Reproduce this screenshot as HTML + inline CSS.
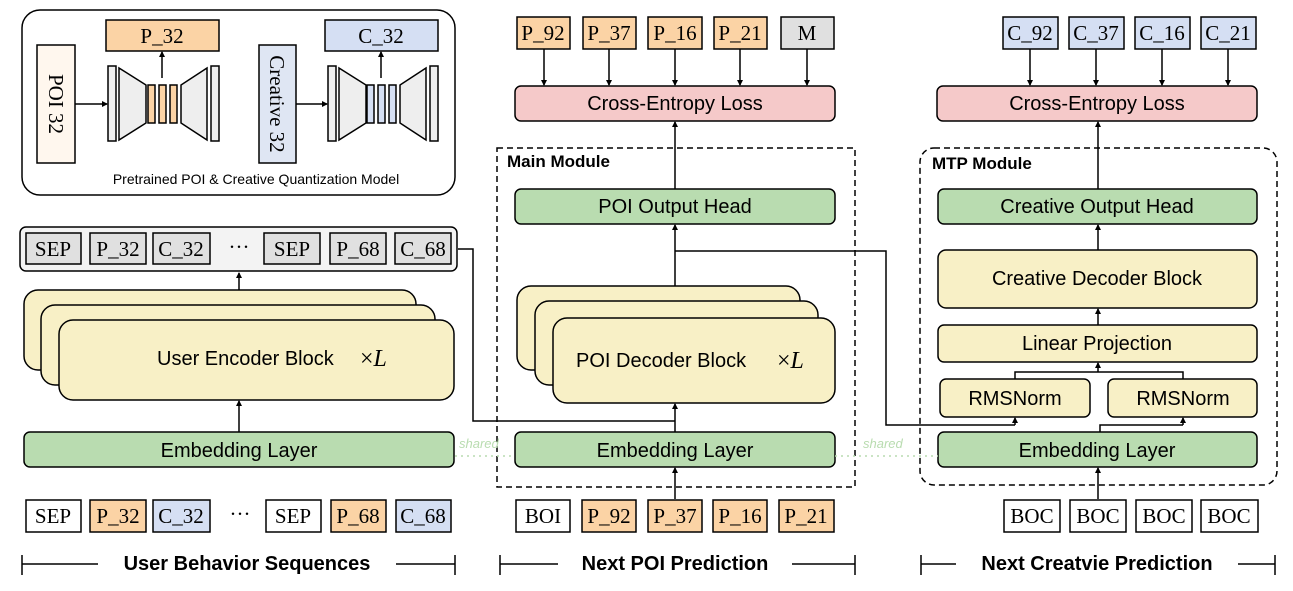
<!DOCTYPE html>
<html><head><meta charset="utf-8"><style>
body{margin:0;background:#fff}
svg{display:block}
.s{font-family:"Liberation Sans",sans-serif}
.r{font-family:"Liberation Serif",serif}
</style></head><body>
<svg width="1293" height="591" viewBox="0 0 1293 591" xmlns="http://www.w3.org/2000/svg">
<defs>
<marker id="a" markerWidth="6" markerHeight="6" refX="5" refY="3" orient="auto" markerUnits="userSpaceOnUse"><path d="M0,0 L6,3 L0,6 z" fill="#000"/></marker>
</defs>
<g stroke="#000" stroke-width="1.5" fill="none">
<rect x="22" y="10" width="433" height="185" rx="18" fill="#fff"/>
<rect x="37" y="45" width="38" height="118" fill="#fff7ee"/>
<rect x="259" y="45" width="37" height="118" fill="#dfe6f3"/>
<rect x="106" y="20" width="113" height="31" fill="#fbd3a5"/>
<rect x="325" y="20" width="113" height="31" fill="#d5dff3"/>
<rect x="108" y="66" width="8" height="75" fill="#eee"/>
<path d="M119,68 L146,85 L146,123 L119,140 Z" fill="#eee"/>
<rect x="148" y="85" width="7" height="38" fill="#fbd3a5"/>
<rect x="159" y="85" width="7" height="38" fill="#fbd3a5"/>
<rect x="170" y="85" width="7" height="38" fill="#fbd3a5"/>
<path d="M207,68 L181,85 L181,123 L207,140 Z" fill="#eee"/>
<rect x="211" y="66" width="8" height="75" fill="#eee"/>
<rect x="328" y="66" width="8" height="75" fill="#eee"/>
<path d="M339,68 L366,85 L366,123 L339,140 Z" fill="#eee"/>
<rect x="367" y="85" width="7" height="38" fill="#d5dff3"/>
<rect x="378" y="85" width="7" height="38" fill="#d5dff3"/>
<rect x="389" y="85" width="7" height="38" fill="#d5dff3"/>
<path d="M426,68 L400,85 L400,123 L426,140 Z" fill="#eee"/>
<rect x="430" y="66" width="8" height="75" fill="#eee"/>
<line x1="75" y1="104" x2="107" y2="104" marker-end="url(#a)"/>
<line x1="296" y1="104" x2="327" y2="104" marker-end="url(#a)"/>
<line x1="162" y1="78" x2="162" y2="52" marker-end="url(#a)"/>
<line x1="381" y1="78" x2="381" y2="52" marker-end="url(#a)"/>

<rect x="20" y="227" width="437" height="44" rx="6" fill="#f3f3f3"/>
<g fill="#e0e0e0">
<rect x="26" y="233" width="55" height="31"/><rect x="90" y="233" width="56" height="31"/><rect x="153" y="233" width="57" height="31"/>
<rect x="264" y="233" width="56" height="31"/><rect x="330" y="233" width="56" height="31"/><rect x="395" y="233" width="56" height="31"/>
</g>
<rect x="24" y="290" width="392" height="80" rx="14" fill="#f8f0c6"/>
<rect x="41" y="305" width="394" height="80" rx="14" fill="#f8f0c6"/>
<rect x="59" y="320" width="395" height="80" rx="14" fill="#f8f0c6"/>
<line x1="239" y1="290" x2="239" y2="273" marker-end="url(#a)"/>
<line x1="239" y1="432" x2="239" y2="401" marker-end="url(#a)"/>
<rect x="24" y="432" width="430" height="35" rx="6" fill="#b9dcb0"/>
<rect x="26" y="500" width="55" height="32" fill="#fff"/>
<rect x="90" y="500" width="56" height="32" fill="#fbd3a5"/>
<rect x="153" y="500" width="57" height="32" fill="#d5dff3"/>
<rect x="266" y="500" width="55" height="32" fill="#fff"/>
<rect x="331" y="500" width="55" height="32" fill="#fbd3a5"/>
<rect x="396" y="500" width="55" height="32" fill="#d5dff3"/>

<rect x="517" y="17" width="53" height="32" fill="#fbd3a5"/>
<rect x="583" y="17" width="53" height="32" fill="#fbd3a5"/>
<rect x="648" y="17" width="54" height="32" fill="#fbd3a5"/>
<rect x="714" y="17" width="53" height="32" fill="#fbd3a5"/>
<rect x="781" y="17" width="53" height="32" fill="#e0e0e0"/>
<line x1="544" y1="49" x2="544" y2="85" marker-end="url(#a)"/>
<line x1="609" y1="49" x2="609" y2="85" marker-end="url(#a)"/>
<line x1="675" y1="49" x2="675" y2="85" marker-end="url(#a)"/>
<line x1="740" y1="49" x2="740" y2="85" marker-end="url(#a)"/>
<line x1="807" y1="49" x2="807" y2="85" marker-end="url(#a)"/>
<rect x="515" y="86" width="320" height="35" rx="6" fill="#f5c9c9"/>
<rect x="497" y="148" width="358" height="339" stroke-dasharray="6,4"/>
<line x1="675" y1="189" x2="675" y2="122" marker-end="url(#a)"/>
<rect x="515" y="189" width="320" height="35" rx="6" fill="#b9dcb0"/>
<line x1="675" y1="286" x2="675" y2="225" marker-end="url(#a)"/>
<rect x="517" y="286" width="283" height="84" rx="14" fill="#f8f0c6"/>
<rect x="535" y="301" width="283" height="84" rx="14" fill="#f8f0c6"/>
<rect x="553" y="318" width="282" height="85" rx="14" fill="#f8f0c6"/>
<line x1="675" y1="432" x2="675" y2="404" marker-end="url(#a)"/>
<polyline points="458,249 473,249 473,421 675,421"/>
<polyline points="675,251 886,251 886,425 1015,425"/>
<line x1="1015" y1="425" x2="1015" y2="418" marker-end="url(#a)"/>
<rect x="515" y="432" width="320" height="35" rx="6" fill="#b9dcb0"/>
<line x1="675" y1="499" x2="675" y2="468" marker-end="url(#a)"/>
<rect x="516" y="500" width="54" height="32" fill="#fff"/>
<rect x="582" y="500" width="54" height="32" fill="#fbd3a5"/>
<rect x="648" y="500" width="54" height="32" fill="#fbd3a5"/>
<rect x="713" y="500" width="54" height="32" fill="#fbd3a5"/>
<rect x="779" y="500" width="55" height="32" fill="#fbd3a5"/>

<rect x="1003" y="17" width="55" height="32" fill="#d5dff3"/>
<rect x="1069" y="17" width="55" height="32" fill="#d5dff3"/>
<rect x="1135" y="17" width="55" height="32" fill="#d5dff3"/>
<rect x="1201" y="17" width="55" height="32" fill="#d5dff3"/>
<line x1="1030" y1="49" x2="1030" y2="85" marker-end="url(#a)"/>
<line x1="1096" y1="49" x2="1096" y2="85" marker-end="url(#a)"/>
<line x1="1162" y1="49" x2="1162" y2="85" marker-end="url(#a)"/>
<line x1="1228" y1="49" x2="1228" y2="85" marker-end="url(#a)"/>
<rect x="937" y="86" width="320" height="35" rx="6" fill="#f5c9c9"/>
<rect x="920" y="148" width="357" height="337" rx="14" stroke-dasharray="6,4"/>
<line x1="1098" y1="189" x2="1098" y2="122" marker-end="url(#a)"/>
<rect x="938" y="189" width="319" height="35" rx="6" fill="#b9dcb0"/>
<line x1="1098" y1="250" x2="1098" y2="225" marker-end="url(#a)"/>
<rect x="938" y="250" width="319" height="58" rx="8" fill="#f8f0c6"/>
<line x1="1098" y1="325" x2="1098" y2="309" marker-end="url(#a)"/>
<rect x="938" y="325" width="319" height="37" rx="6" fill="#f8f0c6"/>
<polyline points="1015,379 1015,372 1183,372 1183,379"/>
<line x1="1098" y1="372" x2="1098" y2="363" marker-end="url(#a)"/>
<rect x="940" y="379" width="150" height="38" rx="6" fill="#f8f0c6"/>
<rect x="1108" y="379" width="149" height="38" rx="6" fill="#f8f0c6"/>
<polyline points="1100,432 1100,425 1183,425"/>
<line x1="1183" y1="425" x2="1183" y2="418" marker-end="url(#a)"/>
<rect x="938" y="432" width="319" height="35" rx="6" fill="#b9dcb0"/>
<line x1="1098" y1="499" x2="1098" y2="468" marker-end="url(#a)"/>
<rect x="1004" y="500" width="56" height="32" fill="#fff"/>
<rect x="1070" y="500" width="56" height="32" fill="#fff"/>
<rect x="1136" y="500" width="56" height="32" fill="#fff"/>
<rect x="1201" y="500" width="57" height="32" fill="#fff"/>

<line x1="22" y1="555" x2="22" y2="575"/><line x1="455" y1="555" x2="455" y2="575"/>
<line x1="22" y1="564" x2="98" y2="564"/><line x1="396" y1="564" x2="455" y2="564"/>
<line x1="500" y1="555" x2="500" y2="575"/><line x1="855" y1="555" x2="855" y2="575"/>
<line x1="500" y1="564" x2="558" y2="564"/><line x1="792" y1="564" x2="855" y2="564"/>
<line x1="921" y1="555" x2="921" y2="575"/><line x1="1275" y1="555" x2="1275" y2="575"/>
<line x1="921" y1="564" x2="956" y2="564"/><line x1="1238" y1="564" x2="1275" y2="564"/>
</g>
<g stroke="#b9dcb0" stroke-width="1.5" stroke-dasharray="2,4">
<line x1="455" y1="456" x2="515" y2="456"/><line x1="835" y1="456" x2="938" y2="456"/>
</g>
<g class="s" font-style="italic" font-size="13" fill="#b9dcb0">
<text x="459" y="448">shared</text><text x="863" y="448">shared</text>
</g>

<g class="r" font-size="21" text-anchor="middle" fill="#000">
<text x="162" y="43">P_32</text><text x="381" y="43">C_32</text>
<text x="56" y="104" transform="rotate(90 56 104)" dominant-baseline="central">POI 32</text>
<text x="277" y="104" transform="rotate(90 277 104)" dominant-baseline="central">Creative 32</text>
<text x="53" y="256">SEP</text><text x="118" y="256">P_32</text><text x="181" y="256">C_32</text>
<text x="239" y="254">···</text>
<text x="292" y="256">SEP</text><text x="358" y="256">P_68</text><text x="423" y="256">C_68</text>
<text x="53" y="523">SEP</text><text x="118" y="523">P_32</text><text x="181" y="523">C_32</text>
<text x="240" y="521">···</text>
<text x="293" y="523">SEP</text><text x="358" y="523">P_68</text><text x="423" y="523">C_68</text>
<text x="543" y="40">P_92</text><text x="609" y="40">P_37</text><text x="675" y="40">P_16</text><text x="740" y="40">P_21</text><text x="807" y="40">M</text>
<text x="543" y="523">BOI</text><text x="609" y="523">P_92</text><text x="675" y="523">P_37</text><text x="740" y="523">P_16</text><text x="806" y="523">P_21</text>
<text x="1030" y="40">C_92</text><text x="1096" y="40">C_37</text><text x="1162" y="40">C_16</text><text x="1228" y="40">C_21</text>
<text x="1032" y="523">BOC</text><text x="1098" y="523">BOC</text><text x="1164" y="523">BOC</text><text x="1229" y="523">BOC</text>
</g>
<g class="s" font-size="20" text-anchor="middle" fill="#000">
<text x="239" y="457">Embedding Layer</text>
<text x="675" y="110">Cross-Entropy Loss</text>
<text x="675" y="213">POI Output Head</text>
<text x="675" y="457">Embedding Layer</text>
<text x="1097" y="110">Cross-Entropy Loss</text>
<text x="1097" y="213">Creative Output Head</text>
<text x="1097" y="285">Creative Decoder Block</text>
<text x="1097" y="350">Linear Projection</text>
<text x="1015" y="405">RMSNorm</text>
<text x="1183" y="405">RMSNorm</text>
<text x="1097" y="457">Embedding Layer</text>
</g>
<g class="s" font-size="20" fill="#000">
<text x="157" y="365">User Encoder Block</text>
<text x="576" y="367">POI Decoder Block</text>
</g>
<g class="r" font-size="24" font-style="italic" fill="#000">
<text x="360" y="366"><tspan font-style="normal">×</tspan>L</text>
<text x="777" y="368"><tspan font-style="normal">×</tspan>L</text>
</g>
<text class="s" x="256" y="184" font-size="14" text-anchor="middle">Pretrained POI &amp; Creative Quantization Model</text>
<g class="s" font-weight="bold" fill="#000">
<text x="507" y="167" font-size="17">Main Module</text>
<text x="932" y="169" font-size="17">MTP Module</text>
<text x="247" y="570" font-size="20" text-anchor="middle">User Behavior Sequences</text>
<text x="675" y="570" font-size="20" text-anchor="middle">Next POI Prediction</text>
<text x="1097" y="570" font-size="20" text-anchor="middle">Next Creatvie Prediction</text>
</g>
</svg>
</body></html>
